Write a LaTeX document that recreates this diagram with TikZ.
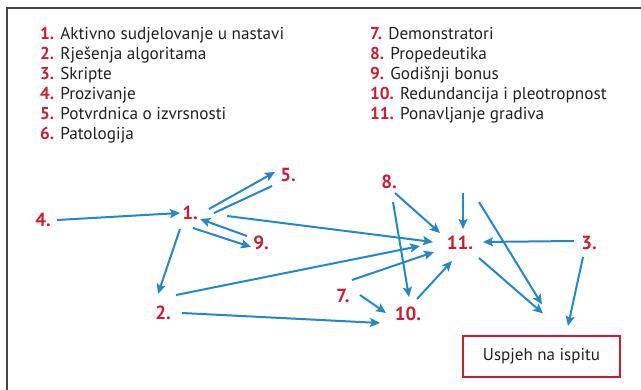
\documentclass[tikz,border=0pt]{standalone}
\usepackage{fontspec}
\setmainfont{PT Sans}
\usetikzlibrary{arrows.meta}
\definecolor{nred}{RGB}{200,30,50}
\definecolor{nblue}{RGB}{35,135,200}
\definecolor{ntext}{RGB}{35,31,32}
\definecolor{nframe}{RGB}{70,70,70}
\begin{document}
\begin{tikzpicture}[x=1pt,y=-1pt,
  lbl/.style={font=\fontsize{19}{19}\selectfont\bfseries, text=nred, inner sep=1pt},
  item/.style={font=\fontsize{17.2}{18}\selectfont, text=ntext, anchor=base west, inner sep=0pt},
  arr/.style={draw=nblue, line width=2pt, -{Stealth[length=10pt,width=9pt,inset=2pt]}},
  ln/.style={draw=nblue, line width=2pt},
  goal/.style={draw=nred, line width=1.6pt, minimum width=157pt, minimum height=41pt, inner sep=0pt,
    font=\fontsize{17}{18}\selectfont, text=ntext}]
\useasboundingbox (0,0) rectangle (641,390);
\draw[nframe, line width=2pt] (641,8) -- (6.5,8) -- (6.5,390);
% legend
\node[item] (l1) at (40,39.3) {\textcolor{nred}{\bfseries 1.} Aktivno sudjelovanje u nastavi};
\node[item] (l2) at (40,59.4) {\textcolor{nred}{\bfseries 2.} Rješenja algoritama};
\node[item] (l3) at (40,79.5) {\textcolor{nred}{\bfseries 3.} Skripte};
\node[item] (l4) at (40,99.6) {\textcolor{nred}{\bfseries 4.} Prozivanje};
\node[item] (l5) at (40,119.7) {\textcolor{nred}{\bfseries 5.} Potvrdnica o izvrsnosti};
\node[item] (l6) at (40,139.8) {\textcolor{nred}{\bfseries 6.} Patologija};
\node[item] (l7) at (370,39.3) {\textcolor{nred}{\bfseries 7.} Demonstratori};
\node[item] (l8) at (370,59.4) {\textcolor{nred}{\bfseries 8.} Propedeutika};
\node[item] (l9) at (370,79.5) {\textcolor{nred}{\bfseries 9.} Godišnji bonus};
\node[item] (l10) at (370,99.6) {\textcolor{nred}{\bfseries 10.} Redundancija i pleotropnost};
\node[item] (l11) at (370,119.7) {\textcolor{nred}{\bfseries 11.} Ponavljanje gradiva};
% diagram nodes
\node[lbl] (n1) at (190,213) {1.};
\node[lbl] (n2) at (163,313) {2.};
\node[lbl] (n3) at (589,243) {3.};
\node[lbl] (n4) at (43,220) {4.};
\node[lbl] (n5) at (288,175) {5.};
\node[lbl] (n7) at (343,296) {7.};
\node[lbl] (n8) at (389,182) {8.};
\node[lbl] (n9) at (261,243) {9.};
\node[lbl] (n10) at (408,314) {10.};
\node[lbl] (n11) at (460,243) {11.};
\node[goal] (box) at (541.5,356.5) {Uspjeh na ispitu};
\coordinate (t1) at (463,193);
\coordinate (t2) at (479,202);
% connectors
\draw[arr] ([shift={(14,0)}]n4.center) -- ([shift={(-10,0)}]n1.center);
\draw[arr] ([shift={(19,-4)}]n1.center) -- ([shift={(-13,-3)}]n5.center);
\draw[ln] ([shift={(-16,11)}]n5.center) -- ([shift={(24,0)}]n1.center);
\draw[arr] ([shift={(3,15)}]n1.center) -- ([shift={(-10,4)}]n9.center);
\draw[arr] ([shift={(-14,-7)}]n9.center) -- ([shift={(10,6)}]n1.center);
\draw[arr] ([shift={(37,3)}]n1.center) -- ([shift={(-27,-1)}]n11.center);
\draw[arr] ([shift={(-10,16)}]n1.center) -- ([shift={(-5,-19)}]n2.center);
\draw[arr] ([shift={(13,-18)}]n2.center) -- ([shift={(-40,3)}]n11.center);
\draw[arr] ([shift={(19,0)}]n2.center) -- ([shift={(-28,9)}]n10.center);
\draw[arr] ([shift={(6,11)}]n8.center) -- ([shift={(-20,-10)}]n11.center);
\draw[arr] ([shift={(4,20)}]n8.center) -- ([shift={(1,-17)}]n10.center);
\draw[arr] ([shift={(9,-16)}]n7.center) -- ([shift={(-26,9)}]n11.center);
\draw[arr] ([shift={(17,-1)}]n7.center) -- ([shift={(-22,-1)}]n10.center);
\draw[arr] ([shift={(9,-15)}]n10.center) -- ([shift={(-8,18)}]n11.center);
\draw[arr] (t1) -- ([shift={(3,-14)}]n11.center);
\draw[arr] (t2) -- ([shift={(0.5,-52)}]box.center);
\draw[arr] ([shift={(-15,-2)}]n3.center) -- ([shift={(23,-1)}]n11.center);
\draw[arr] ([shift={(19,15)}]n11.center) -- ([shift={(1.5,-43)}]box.center);
\draw[arr] ([shift={(-6,14)}]n3.center) -- ([shift={(26.5,-30.5)}]box.center);
\end{tikzpicture}
\end{document}
